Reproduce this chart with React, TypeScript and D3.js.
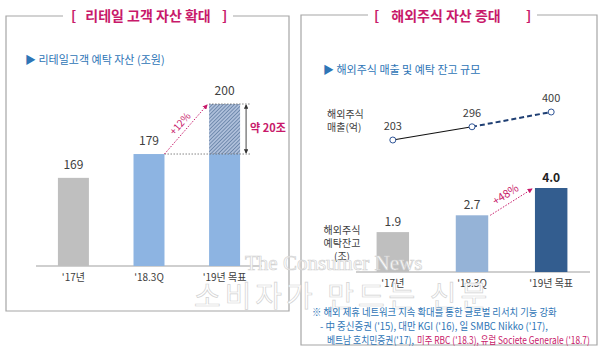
import { useLayoutEffect, useRef } from 'react';
import * as d3 from 'd3';

// left panel: retail customer assets (조원)
const retailCats = ["'17년", "'18.3Q", "'19년 목표"];
const retailVals = [169, 179, 200];
const retailBase = 179; // solid part of target bar

// right panel: overseas stock revenue (억) and deposits (조)
const osCats = ["'17년", "'18.3Q", "'19년 목표"];
const osRevenue = [203, 296, 400];
const osDeposit = [1.9, 2.7, 4.0];

// footnote lines: text, x, y, width to fit, colour key
const notes = [
  { t: '※ 해외 제휴 네트워크 지속 확대를 통한 글로벌 리서치 기능 강화', x: 312, y: 316, w: 245, pink: false },
  { t: "- 中 중신증권 ('15), 대만 KGI ('16), 일 SMBC Nikko ('17),", x: 320, y: 330, w: 228, pink: false },
  { t: "베트남 호치민증권('17),", x: 327, y: 344, w: 87, pink: false },
  { t: "미주 RBC ('18.3), 유럽 Societe Generale ('18.7)", x: 417, y: 344, w: 173, pink: true },
];

const FONT = "'Noto Sans CJK KR', 'Noto Sans', sans-serif";
const MAGENTA = '#c8196a';
const BLUE = '#2e75b6';
const TXT = '#404040';

export default function App() {
  const noteRef = useRef<SVGGElement>(null);

  // squeeze footnote lines horizontally to the widths seen in the picture
  useLayoutEffect(() => {
    d3.select(noteRef.current).selectAll<SVGTextElement, unknown>('text').each(function (_, i) {
      const n = notes[i];
      const len = this.getComputedTextLength();
      const k = len > 0 ? n.w / len : 1;
      d3.select(this).attr('transform', `translate(${n.x},${n.y}) scale(${k},1)`);
    });
  }, []);

  // left scales
  const xL = d3.scaleBand().domain(retailCats).range([36, 262]).paddingInner(0.59).paddingOuter(0.29);
  const yL = d3.scaleLinear().domain([132, 200]).range([266, 104]);
  const bwL = xL.bandwidth();

  // right scales
  const xR = d3.scaleBand().domain(osCats).range([356, 588]).paddingInner(0.59).paddingOuter(0.26);
  const yBar = d3.scaleLinear().domain([0, 4]).range([272, 188]);
  const yLine = d3.scaleLinear().domain([203, 400]).range([140, 112]);
  const bwR = xR.bandwidth();
  const cx = (c: string) => (xR(c) as number) + bwR / 2;

  const leftColors = ['#bfbfbf', '#8db4e2', '#8db4e2'];
  const rightColors = ['#bfbfbf', '#95b3d7', '#335d8f'];

  const linePts = osCats.map((c, i) => [cx(c), yLine(osRevenue[i])] as [number, number]);
  const line = d3.line();

  const x2 = xL(retailCats[1]) as number;
  const x3 = xL(retailCats[2]) as number;
  const arrowX = x3 + bwL + 6;

  return (
    <svg width={600} height={351} style={{ position: 'absolute', left: 0, top: 0, background: '#fff' }} fontFamily={FONT}>
      <defs>
        <pattern id="hatch" width="2.6" height="2.6" patternUnits="userSpaceOnUse" patternTransform="rotate(45)">
          <rect width="2.6" height="2.6" fill="#aebfda" />
          <line x1="0" y1="0" x2="0" y2="2.6" stroke="#44648f" strokeWidth="1.1" />
        </pattern>
        <marker id="arrM" viewBox="0 0 6 6" refX="5" refY="3" markerWidth="5" markerHeight="5" orient="auto">
          <path d="M0,0 L6,3 L0,6 Z" fill={MAGENTA} />
        </marker>
        <marker id="arrK" viewBox="0 0 6 6" refX="5" refY="3" markerWidth="5" markerHeight="5" orient="auto-start-reverse">
          <path d="M0,0 L6,3 L0,6 Z" fill="#333" />
        </marker>
      </defs>

      {/* frames */}
      <path d="M63,16 H6 V311 H289 V16 H233" fill="none" stroke="#a6a6a6" strokeWidth={1.2} />
      <path d="M368,15 H301 V345 H597 V15 H537" fill="none" stroke="#a6a6a6" strokeWidth={1.2} />

      {/* titles */}
      <g fill={MAGENTA} fontWeight={700} fontSize={14}>
        <text x={71} y={21}>[</text>
        <text x={148} y={21} textAnchor="middle">리테일 고객 자산 확대</text>
        <text x={222} y={21}>]</text>
        <text x={374} y={21}>[</text>
        <text x={446} y={21} textAnchor="middle">해외주식 자산 증대</text>
        <text x={526} y={21}>]</text>
      </g>

      {/* subtitles */}
      <g fill={BLUE} fontSize={11}>
        <text x={25} y={64}>▶ 리테일고객 예탁 자산 (조원)</text>
        <text x={323} y={74}>▶ 해외주식 매출 및 예탁 잔고 규모</text>
      </g>

      {/* left bars */}
      <line x1={36} x2={262} y1={266} y2={266} stroke="#bfbfbf" strokeWidth={1.5} />
      {retailCats.map((c, i) => {
        const x = xL(c) as number;
        const top = i === 2 ? yL(retailBase) : yL(retailVals[i]);
        return <rect key={c} x={x} y={top} width={bwL} height={266 - top} fill={leftColors[i]} />;
      })}
      <rect x={x3} y={yL(retailVals[2])} width={bwL} height={yL(retailBase) - yL(retailVals[2])} fill="url(#hatch)" />
      {retailCats.map((c, i) => (
        <text key={c} x={(xL(c) as number) + bwL / 2} y={yL(retailVals[i]) - 9} textAnchor="middle" fontSize={12} fill={TXT}>
          {retailVals[i]}
        </text>
      ))}
      {retailCats.map((c) => (
        <text key={c} x={(xL(c) as number) + bwL / 2} y={281} textAnchor="middle" fontSize={10} fill={TXT}>
          {c}
        </text>
      ))}
      {/* reference lines */}
      <line x1={x2 + bwL} x2={arrowX + 5} y1={yL(retailBase)} y2={yL(retailBase)} stroke="#666" strokeDasharray="1.5,1.5" strokeWidth={0.8} />
      <line x1={x3} x2={arrowX + 5} y1={yL(retailVals[2])} y2={yL(retailVals[2])} stroke="#666" strokeDasharray="1.5,1.5" strokeWidth={0.8} />
      <line x1={arrowX} x2={arrowX} y1={yL(retailVals[2]) + 1} y2={yL(retailBase) - 1} stroke="#333" strokeWidth={0.9}
        markerStart="url(#arrK)" markerEnd="url(#arrK)" />
      <text x={arrowX + 4} y={132} fontSize={11} fontWeight={700} fill={MAGENTA}>약 20조</text>
      <line x1={x2 + bwL} y1={yL(retailBase)} x2={x3 - 2} y2={yL(retailVals[2]) + 1} stroke={MAGENTA} strokeWidth={1}
        strokeDasharray="1.5,1.5" markerEnd="url(#arrM)" />
      <text transform={`translate(${(x2 + bwL + x3) / 2 - 4},${(yL(retailBase) + yL(retailVals[2])) / 2 - 3}) rotate(-49)`}
        textAnchor="middle" fontSize={10} fill={MAGENTA}>+12%</text>

      {/* right: line series */}
      <g fontSize={10} fill={TXT}>
        <text x={327} y={118}>해외주식</text>
        <text x={327} y={131}>매출(억)</text>
      </g>
      <path d={line(linePts.slice(0, 2)) as string} stroke="#111" strokeWidth={1.2} fill="none" />
      <path d={line(linePts.slice(1)) as string} stroke="#1f3f73" strokeWidth={2} strokeDasharray="5,3" fill="none" />
      {linePts.map((p, i) => (
        <g key={i}>
          <circle cx={p[0]} cy={p[1]} r={3} fill="#fff" stroke="#2f5597" strokeWidth={1} />
          <text x={p[0]} y={p[1] - 10} textAnchor="middle" fontSize={11} fill={TXT}>{osRevenue[i]}</text>
        </g>
      ))}

      {/* right: bars */}
      <g fontSize={10} fill={TXT} textAnchor="middle">
        <text x={342} y={234}>해외주식</text>
        <text x={342} y={247}>예탁잔고</text>
        <text x={342} y={260}>(조)</text>
      </g>
      <line x1={356} x2={590} y1={272} y2={272} stroke="#bfbfbf" strokeWidth={1.5} />
      {osCats.map((c, i) => (
        <rect key={c} x={xR(c) as number} y={yBar(osDeposit[i])} width={bwR} height={272 - yBar(osDeposit[i])} fill={rightColors[i]} />
      ))}
      {osCats.map((c, i) => (
        <text key={c} x={cx(c)} y={yBar(osDeposit[i]) - 6} textAnchor="middle" fontSize={12}
          fontWeight={i === 2 ? 700 : 400} fill={i === 2 ? '#222' : TXT}>
          {osDeposit[i].toFixed(1)}
        </text>
      ))}
      {osCats.map((c) => (
        <text key={c} x={cx(c)} y={287} textAnchor="middle" fontSize={10} fill={TXT}>{c}</text>
      ))}
      <line x1={(xR(osCats[1]) as number) + bwR + 2} y1={yBar(osDeposit[1])} x2={(xR(osCats[2]) as number) - 3} y2={yBar(osDeposit[2]) + 1}
        stroke={MAGENTA} strokeWidth={1} strokeDasharray="1.5,1.5" markerEnd="url(#arrM)" />
      <text transform={`translate(${((xR(osCats[1]) as number) + bwR + (xR(osCats[2]) as number)) / 2 - 4},${(yBar(osDeposit[1]) + yBar(osDeposit[2])) / 2 - 4}) rotate(-33)`}
        textAnchor="middle" fontSize={11} fill={MAGENTA}>+48%</text>

      {/* watermark */}
      <g fill="#fff" stroke="#d2d2d2" strokeWidth={0.7}>
        <text x={245} y={270} fontFamily="'Liberation Serif', serif" fontSize={21}>The Consumer News</text>
        <text x={194} y={307} fontSize={29} letterSpacing={4}>소비자가 만드는 신문</text>
      </g>

      {/* footnote */}
      <g ref={noteRef} fontSize={10}>
        {notes.map((n) => (
          <text key={n.t} transform={`translate(${n.x},${n.y})`} fill={n.pink ? MAGENTA : BLUE}>{n.t}</text>
        ))}
      </g>
    </svg>
  );
}
